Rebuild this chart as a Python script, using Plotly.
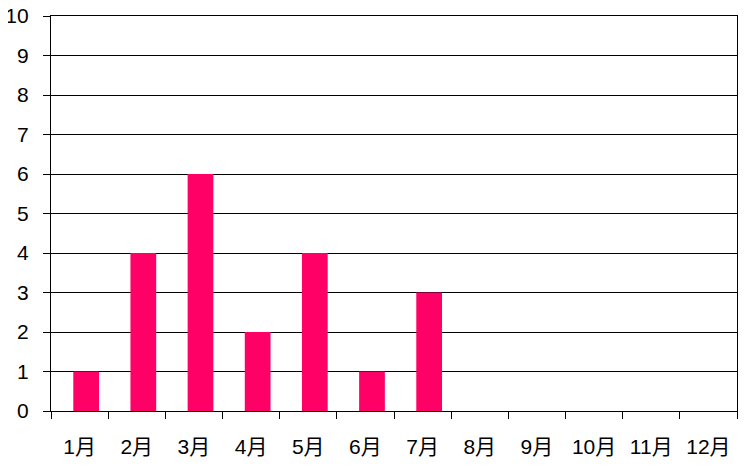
import plotly.graph_objects as go

# monthly counts
months = ['1月', '2月', '3月', '4月', '5月', '6月', '7月', '8月', '9月', '10月', '11月', '12月']
counts = [1, 4, 6, 2, 4, 1, 3, 0, 0, 0, 0, 0]
y_ticks = list(range(0, 11))

font_family = 'Liberation Sans, Noto Sans CJK JP, sans-serif'

fig = go.Figure()
fig.add_trace(
    go.Bar(
        x=months,
        y=counts,
        marker=dict(color='#FF0066', line=dict(width=0)),
        width=0.45,
        offset=-0.11,
        showlegend=False,
    )
)

# page body has an 8px margin, so the margins are shifted to compensate
fig.update_layout(
    width=751,
    height=467,
    margin=dict(l=43, r=22, t=8, b=64),
    plot_bgcolor='white',
    paper_bgcolor='white',
    font=dict(family=font_family, size=21, color='black'),
)

fig.update_xaxes(
    type='category',
    tickson='boundaries',
    ticks='outside',
    ticklen=7,
    tickwidth=1.3,
    tickcolor='black',
    tickangle=0,
    showgrid=False,
    showline=True,
    linecolor='black',
    linewidth=1.3,
    mirror=True,
    automargin=False,
    ticklabelstandoff=17,
    ticklabeloverflow='allow',
    tickfont=dict(size=21),
)

fig.update_yaxes(
    range=[0, 10],
    tickvals=y_ticks,
    ticks='outside',
    ticklen=7,
    tickwidth=1.3,
    tickcolor='black',
    showgrid=True,
    gridcolor='black',
    gridwidth=1.3,
    showline=True,
    linecolor='black',
    linewidth=1.3,
    mirror=True,
    zeroline=False,
    automargin=False,
    ticklabelstandoff=10,
    ticklabeloverflow='allow',
    tickfont=dict(size=21),
)

fig.write_html("out.html")
